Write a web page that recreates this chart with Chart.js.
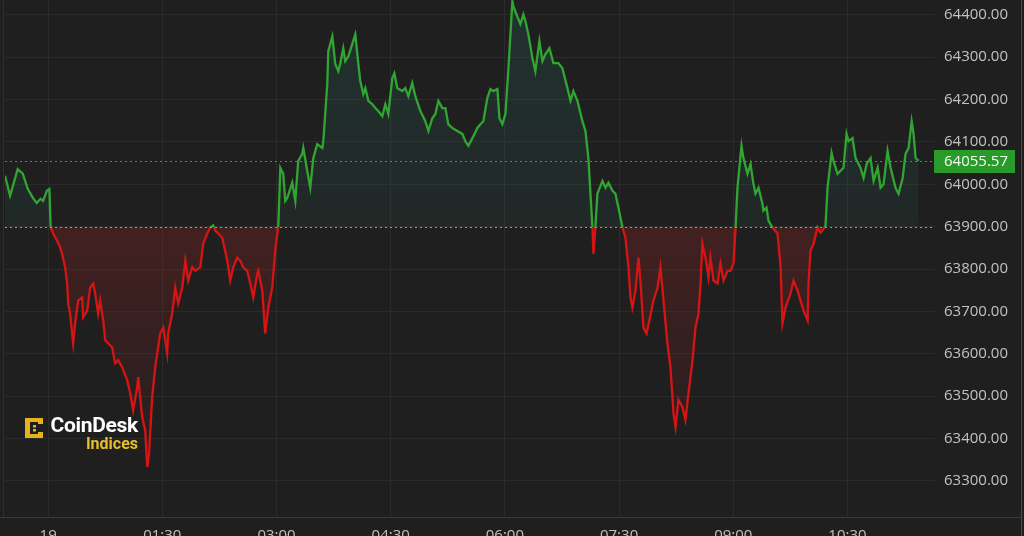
<!DOCTYPE html>
<html><head><meta charset="utf-8">
<script src="https://cdn.jsdelivr.net/npm/chart.js@4.4.1/dist/chart.umd.min.js"></script>
<style>
html,body{margin:0;padding:0;width:1024px;height:536px;overflow:hidden;background:#1f1f1f;}
#wrap{position:relative;width:1024px;height:552px;}
canvas{display:block}
#logo{position:absolute;left:24px;top:415px;width:114px;height:40px;font-family:Roboto,'Open Sans',sans-serif;font-weight:700;}
#logo svg{position:absolute;left:0;top:2px}
#logo .name{position:absolute;left:14px;top:-2px;width:100px;text-align:right;color:#ffffff;font-size:21px;line-height:25px;letter-spacing:-0.3px}
#logo .sub{position:absolute;left:14px;top:19px;width:100px;text-align:right;color:#e6bf2a;font-size:16px;line-height:20px}
</style></head><body>
<div id="wrap"><canvas id="c" width="1024" height="552"></canvas>
<div id="logo"><svg width="22" height="22" viewBox="0 0 22 22"><path d="M1 1 H19 V7 H14 V5 H6 V17 H14 V15 H19 V21 H1 Z" fill="#e6b31e"/><rect x="9" y="8" width="3" height="2.5" fill="#e6b31e"/><rect x="9" y="12" width="3" height="2.5" fill="#e6b31e"/></svg><div class="name">CoinDesk</div><div class="sub">Indices</div></div>
</div>
<script>
// minutes after 00:00 on the 19th
const times = [-34,-30,-24,-20,-16,-12,-9,-6,-4,-1,1,2,4,7,9.5,11,13.4,15,15.8,17.3,19.7,21.3,23.7,26.8,27.6,30.8,33.1,35.5,37.1,39.4,41,43.4,45,47.3,50.5,52.8,55.2,58.4,62.3,64.7,67,70.2,71,74.1,76.5,78.1,79.6,82,84.4,86.7,88.3,90.7,93.8,94.6,97.8,100.2,102.5,105.7,108.1,110.4,113.6,115.9,119.9,122.2,125.4,127.8,130.1,131.7,134.1,137.2,141.2,143.5,145.9,149,151.4,153.8,156.9,159.3,161.7,164.8,165.6,168.8,171.1,173.5,176.6,179,181.4,183,185.3,186.9,188.5,192.4,194.8,197.1,200.3,201.1,204.2,206.6,209,212.1,216.1,216.9,220,220.8,224,226.3,228.7,230.3,232.6,234.2,236.6,239.7,242.1,244.5,246,248.4,250,252.4,255.5,257.9,260.2,263.4,265.8,268.1,271.3,272.9,275.2,279.2,281.5,283.9,287,289.4,293.4,297.3,299.7,302.8,305.2,307.6,310.7,313.1,315.4,318.6,322.5,326.5,328.8,331.2,334.4,338.3,340.7,343,346.2,348.6,350.9,354.1,355.7,358,360.4,362.8,365.9,366.7,369.8,372.2,374.6,376.2,378.5,381.7,384,387.2,389.6,391.9,395.1,398.2,402.2,405.3,409.3,411.7,414,417.2,421.1,423.5,425.8,429,429.8,431.4,432.9,436.9,439.3,441.6,444.8,447.1,449.5,452.7,455,457.4,459,460.5,462.9,465.3,466.8,469.2,471.6,473.9,477.1,480.3,482.6,485,488.1,490.5,492.9,494.5,496.8,500,502.3,504.7,507.9,510.2,512.6,514.2,515.7,518.1,520.5,522,524.4,527.6,529.9,532.3,535.5,537.8,540.2,541.8,543.3,546.5,548,551.2,553.6,555.9,557.5,559.9,563,563.8,566.2,567.8,570.9,574.9,577.3,578.8,581.2,585.1,587.5,590.7,593,595.4,598.6,599.3,600.9,603.3,606.4,608.8,611.2,612.7,614.3,617.5,619,622.2,626.9,629.3,630.9,634,636.4,640.3,642.7,645.1,648.2,650.6,653.8,656.1,658.5,661.6,664,667.9,670.3,673.5,675.8,678.2,680.6,682.1,683.7,686.1];
const prices = [64020,63973,64036,64025,63989,63968,63956,63966,63961,63985,63989,63898,63884,63867,63851,63836,63804,63766,63719,63695,63625,63672,63726,63733,63686,63702,63756,63766,63742,63695,63726,63679,63632,63625,63615,63578,63585,63568,63538,63507,63467,63521,63545,63451,63420,63333,63366,63498,63568,63615,63648,63662,63601,63648,63695,63756,63719,63756,63820,63773,63804,63796,63804,63860,63884,63898,63903,63891,63884,63874,63820,63773,63804,63827,63820,63804,63796,63766,63733,63789,63796,63749,63648,63709,63756,63844,63902,64039,64025,63961,63968,64004,63961,64055,64072,64086,64032,63992,64062,64095,64086,64102,64236,64314,64349,64284,64267,64286,64321,64291,64302,64331,64354,64284,64244,64213,64227,64197,64189,64180,64173,64161,64189,64166,64251,64262,64227,64220,64227,64208,64239,64208,64173,64149,64126,64156,64166,64197,64180,64180,64142,64133,64126,64119,64102,64091,64109,64133,64142,64149,64204,64225,64220,64225,64156,64142,64166,64274,64432,64420,64396,64378,64401,64385,64354,64298,64267,64338,64291,64307,64321,64286,64286,64274,64227,64197,64220,64197,64149,64126,64062,63898,63836,63902,63978,64008,63992,64004,63985,63978,63945,63898,63874,63804,63733,63709,63749,63827,63773,63662,63648,63679,63726,63756,63804,63726,63625,63568,63460,63427,63491,63474,63444,63507,63585,63662,63695,63766,63860,63827,63780,63827,63773,63766,63813,63773,63796,63796,63813,63898,63992,64091,64062,64025,64048,64001,63978,63992,63954,63938,63945,63914,63898,63884,63804,63672,63709,63742,63773,63749,63726,63702,63679,63766,63844,63860,63898,63886,63895,63902,63992,64074,64055,64025,64039,64119,64102,64109,64062,64039,64015,64048,64062,64008,64039,63992,64001,64079,64039,63992,63978,64015,64072,64086,64149,64119,64062,64055.57];
const baseline = 63900;
const lastPrice = 64055.57;
const xTickValues = [0,90,180,270,360,450,540,630];
const xTickLabels = ['19','01:30','03:00','04:30','06:00','07:30','09:00','10:30'];
const yTickValues = [63300,63400,63500,63600,63700,63800,63900,64000,64100,64200,64300,64400];
const xRange = [-34, 699];
const yRange = [63215, 64435];

const GREEN = '#31a531', RED = '#d61414';
const BG = '#1f1f1f', GRID = '#2b2b2b', TXT = '#c2c2c2';

function strokeColor(c){
  const ch = c.chart, a = ch.chartArea;
  if (!a) return GREEN;
  const yb = ch.scales.y.getPixelForValue(baseline);
  const f = Math.min(1, Math.max(0, (yb - a.top) / (a.bottom - a.top)));
  const g = ch.ctx.createLinearGradient(0, a.top, 0, a.bottom);
  g.addColorStop(0, GREEN); g.addColorStop(f, GREEN);
  g.addColorStop(f, RED); g.addColorStop(1, RED);
  return g;
}
function fillOpt(c){
  const ch = c.chart, a = ch.chartArea;
  if (!a) return {target:{value:baseline}, above:'rgba(0,0,0,0)', below:'rgba(0,0,0,0)'};
  const yb = ch.scales.y.getPixelForValue(baseline);
  const ga = ch.ctx.createLinearGradient(0, a.top, 0, yb);
  ga.addColorStop(0, 'rgba(45,120,105,0.22)');
  ga.addColorStop(1, 'rgba(45,120,105,0.10)');
  const gb = ch.ctx.createLinearGradient(0, yb, 0, a.bottom - 40);
  gb.addColorStop(0, 'rgba(170,35,35,0.26)');
  gb.addColorStop(1, 'rgba(170,35,35,0.03)');
  return {target:{value:baseline}, above:ga, below:gb};
}

const bgPlugin = {
  id:'bg',
  beforeDraw(ch){ const x = ch.ctx; x.save(); x.fillStyle = BG; x.fillRect(0,0,ch.width,ch.height); x.restore(); }
};
const overlay = {
  id:'overlay',
  afterDraw(ch){
    const x = ch.ctx, a = ch.chartArea, ys = ch.scales.y;
    x.save();
    const yb = Math.round(ys.getPixelForValue(baseline)) + 0.5;
    x.setLineDash([2,3]); x.lineWidth = 1;
    x.strokeStyle = '#9a9a9a';
    x.beginPath(); x.moveTo(a.left, yb); x.lineTo(a.right, yb); x.stroke();
    const yl = Math.round(ys.getPixelForValue(lastPrice)) + 0.5;
    x.strokeStyle = '#3f9a3f';
    x.beginPath(); x.moveTo(a.left, yl); x.lineTo(a.right, yl); x.stroke();
    x.setLineDash([]);
    x.strokeStyle = '#3a3a3a';
    x.beginPath(); x.moveTo(0, a.bottom + 0.5); x.lineTo(1021, a.bottom + 0.5); x.stroke();
    x.strokeStyle = '#4c4c4c';
    x.beginPath(); x.moveTo(1021.5, 0); x.lineTo(1021.5, ch.height); x.stroke();
    x.strokeStyle = '#2e2e2e';
    x.beginPath(); x.moveTo(3.5, 0); x.lineTo(3.5, a.bottom); x.stroke();
    x.fillStyle = '#2a9b2a';
    x.fillRect(a.right - 1, yl - 11.5, 81, 23);
    x.fillStyle = '#f2fff2';
    x.font = '15px "Open Sans"';
    x.textBaseline = 'middle'; x.textAlign = 'left';
    x.fillText(lastPrice.toFixed(2), a.right + 9, yl + 0.5);
    x.restore();
  }
};

new Chart(document.getElementById('c'), {
  type:'line',
  data:{datasets:[{
    data: times.map((t,i)=>({x:t, y:prices[i]})),
    borderWidth:2.3, pointRadius:0, tension:0,
    borderColor: strokeColor,
    fill: fillOpt
  }]},
  options:{
    responsive:false, animation:false, devicePixelRatio:1,
    layout:{padding:{left:5, top:0, right:0, bottom:0}},
    plugins:{legend:{display:false}, tooltip:{enabled:false}},
    scales:{
      x:{
        type:'linear', min:xRange[0], max:xRange[1],
        afterBuildTicks: s => { s.ticks = xTickValues.map(v => ({value:v})); },
        afterFit: s => { s.height = 35; s.paddingLeft = 0; s.paddingRight = 0; },
        grid:{color:GRID, drawTicks:false},
        border:{display:false},
        ticks:{padding:10, color:TXT, font:{family:'Open Sans', size:15}, maxRotation:0, autoSkip:false,
          callback:(v,i) => xTickLabels[i]}
      },
      y:{
        position:'right', min:yRange[0], max:yRange[1],
        afterBuildTicks: s => { s.ticks = yTickValues.map(v => ({value:v})); },
        afterFit: s => { s.width = 89; s.paddingTop = 0; s.paddingBottom = 0; },
        grid:{color:GRID, drawTicks:false},
        border:{display:false},
        ticks:{crossAlign:'near', padding:9, color:TXT, font:{family:'Open Sans', size:15},
          callback:v => Number(v).toFixed(2)}
      }
    }
  },
  plugins:[bgPlugin, overlay]
});
</script>
</body></html>
